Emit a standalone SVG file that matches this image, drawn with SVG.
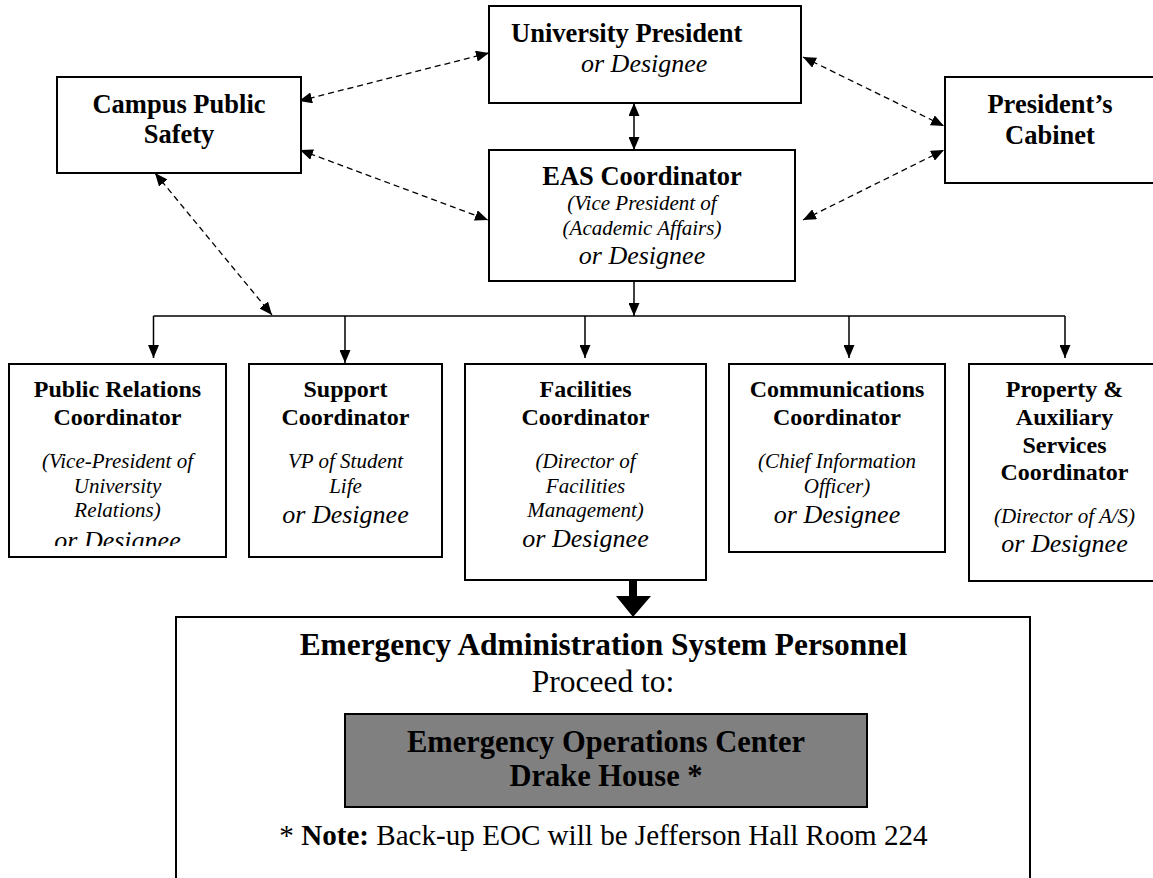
<svg xmlns="http://www.w3.org/2000/svg" width="1153" height="878" viewBox="0 0 1153 878">
<style>
.box{fill:#fff;stroke:#000;stroke-width:2}
.gray{fill:#808080;stroke:#000;stroke-width:2}
text{font-family:"Liberation Serif","Times New Roman",serif;fill:#000}
.t{font-weight:bold;font-size:26.5px}
.ct{font-weight:bold;font-size:24px}
.s{font-style:italic;font-size:21px}
.d{font-style:italic;font-size:26px}
.m{text-anchor:middle}
.b{font-size:30.5px}
.bb{font-weight:bold}
.sol{fill:none;stroke:#000;stroke-width:1.5}
.dash{fill:none;stroke:#000;stroke-width:1.3;stroke-dasharray:6,4}
</style>
<defs>
<marker id="ah" markerUnits="userSpaceOnUse" markerWidth="13" markerHeight="11" refX="13" refY="5.5" orient="auto-start-reverse">
<path d="M0,0 L13,5.5 L0,11 z" fill="#000"/>
</marker>
<clipPath id="prclip"><rect x="9" y="364" width="217" height="182"/></clipPath>
</defs>
<rect width="1153" height="878" fill="#fff"/>

<g id="connectors">
<line class="dash" x1="299" y1="101" x2="489" y2="53" marker-start="url(#ah)" marker-end="url(#ah)"/>
<line class="dash" x1="300" y1="150" x2="488" y2="220" marker-start="url(#ah)" marker-end="url(#ah)"/>
<line class="dash" x1="155" y1="173" x2="272" y2="315" marker-start="url(#ah)" marker-end="url(#ah)"/>
<line class="dash" x1="803" y1="57" x2="944" y2="126" marker-start="url(#ah)" marker-end="url(#ah)"/>
<line class="dash" x1="803" y1="220" x2="944" y2="150" marker-start="url(#ah)" marker-end="url(#ah)"/>
<line class="sol" x1="634" y1="103" x2="634" y2="150" marker-start="url(#ah)" marker-end="url(#ah)"/>
<line class="sol" x1="634" y1="270" x2="634" y2="316" marker-end="url(#ah)"/>
<line class="sol" x1="153.5" y1="316" x2="1065" y2="316"/>
<line class="sol" x1="153.5" y1="316" x2="153.5" y2="358" marker-end="url(#ah)"/>
<line class="sol" x1="345" y1="316" x2="345" y2="363" marker-end="url(#ah)"/>
<line class="sol" x1="585" y1="316" x2="585" y2="358" marker-end="url(#ah)"/>
<line class="sol" x1="849" y1="316" x2="849" y2="358" marker-end="url(#ah)"/>
<line class="sol" x1="1065" y1="316" x2="1065" y2="358" marker-end="url(#ah)"/>
<path d="M629,569 H637 V596 H651 L633,617 L616,596 H629 Z" fill="#000"/>
</g>

<g id="university-president">
<rect class="box" x="489" y="6" width="312" height="97"/>
<text class="t" x="511" y="42">University President</text>
<text class="d" x="581" y="72">or Designee</text>
</g>

<g id="campus-public-safety">
<rect class="box" x="57" y="77" width="244" height="96"/>
<text class="t m" x="179" y="113">Campus Public</text>
<text class="t m" x="179" y="143">Safety</text>
</g>

<g id="eas-coordinator">
<rect class="box" x="489" y="150" width="306" height="131"/>
<text class="t m" x="642" y="185">EAS Coordinator</text>
<text class="s m" x="642" y="210">(Vice President of</text>
<text class="s m" x="642" y="235">(Academic Affairs)</text>
<text class="d m" x="642" y="264">or Designee</text>
</g>

<g id="presidents-cabinet">
<rect class="box" x="945" y="77" width="215" height="106"/>
<text class="t m" x="1050" y="113">President’s</text>
<text class="t m" x="1050" y="144">Cabinet</text>
</g>

<g id="public-relations">
<rect class="box" x="9" y="364" width="217" height="193"/>
<text class="ct m" x="117.5" y="397">Public Relations</text>
<text class="ct m" x="117.5" y="425">Coordinator</text>
<text class="s m" x="117.5" y="468">(Vice-President of</text>
<text class="s m" x="117.5" y="493">University</text>
<text class="s m" x="117.5" y="517">Relations)</text>
<text class="d m" x="117.5" y="549" clip-path="url(#prclip)">or Designee</text>
</g>

<g id="support">
<rect class="box" x="249" y="364" width="193" height="193"/>
<text class="ct m" x="345.5" y="397">Support</text>
<text class="ct m" x="345.5" y="425">Coordinator</text>
<text class="s m" x="345.5" y="468">VP of Student</text>
<text class="s m" x="345.5" y="493">Life</text>
<text class="d m" x="345.5" y="523">or Designee</text>
</g>

<g id="facilities">
<rect class="box" x="465" y="364" width="241" height="216"/>
<text class="ct m" x="585.5" y="397">Facilities</text>
<text class="ct m" x="585.5" y="425">Coordinator</text>
<text class="s m" x="585.5" y="468">(Director of</text>
<text class="s m" x="585.5" y="493">Facilities</text>
<text class="s m" x="585.5" y="517">Management)</text>
<text class="d m" x="585.5" y="547">or Designee</text>
</g>

<g id="communications">
<rect class="box" x="729" y="364" width="216" height="188"/>
<text class="ct m" x="837" y="397">Communications</text>
<text class="ct m" x="837" y="425">Coordinator</text>
<text class="s m" x="837" y="468">(Chief Information</text>
<text class="s m" x="837" y="493">Officer)</text>
<text class="d m" x="837" y="523">or Designee</text>
</g>

<g id="property">
<rect class="box" x="969" y="364" width="200" height="217"/>
<text class="ct m" x="1064.5" y="397">Property &amp;</text>
<text class="ct m" x="1064.5" y="425">Auxiliary</text>
<text class="ct m" x="1064.5" y="453">Services</text>
<text class="ct m" x="1064.5" y="480">Coordinator</text>
<text class="s m" x="1064.5" y="523">(Director of A/S)</text>
<text class="d m" x="1064.5" y="552">or Designee</text>
</g>

<g id="eas-personnel">
<rect class="box" x="176" y="617" width="854" height="300"/>
<text class="m bb" x="603.5" y="655" style="font-size:31.4px">Emergency Administration System Personnel</text>
<text class="m" x="603" y="692" style="font-size:31.5px">Proceed to:</text>
</g>

<g id="eoc">
<rect class="gray" x="345" y="714" width="522" height="93"/>
<text class="b m bb" x="606" y="752">Emergency Operations Center</text>
<text class="b m bb" x="606" y="786">Drake House *</text>
</g>

<g id="note">
<text class="m" x="603.5" y="845" style="font-size:29.1px">* <tspan class="bb">Note:</tspan> Back-up EOC will be Jefferson Hall Room 224</text>
</g>
</svg>
